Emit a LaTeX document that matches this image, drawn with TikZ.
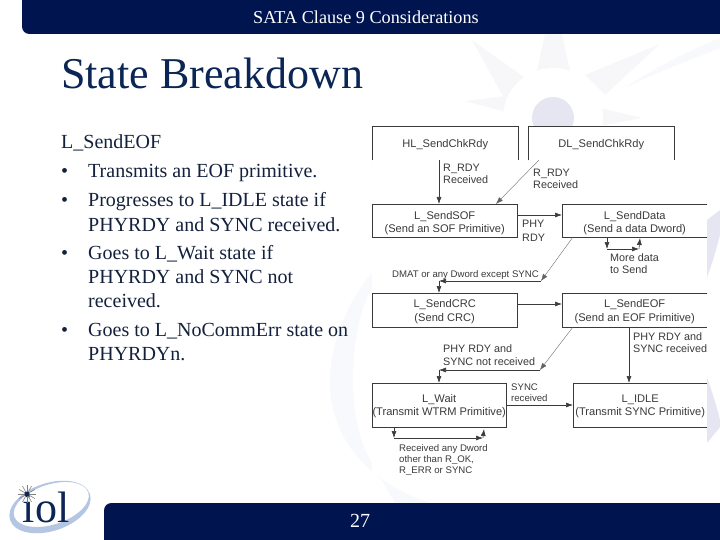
\documentclass[tikz,border=0pt]{standalone}
\usepackage{fontspec}
\setmainfont{Liberation Serif}
\newfontfamily\diag{Liberation Sans}
\usetikzlibrary{arrows.meta}
\definecolor{navy}{HTML}{001550}
\definecolor{titleblue}{HTML}{0B2555}
\definecolor{textnavy}{HTML}{14213D}
\definecolor{wm}{HTML}{F7F7FA}
\definecolor{wmdark}{HTML}{E6E6F2}
\definecolor{wmpale}{HTML}{F8F9FC}
\definecolor{ink}{HTML}{3A3A3A}
\definecolor{ring}{HTML}{B4C6E4}
\tikzset{
  x=1pt,y=-1pt,
  bar/.style={fill=navy,draw=none},
  statebox/.style={inner sep=0pt,anchor=north west},
  statetext/.style={inner sep=0pt,align=center,font=\diag\fontsize{11.1}{13.7}\selectfont,text=ink},
  outline/.style={draw=ink,line width=0.6pt},
  lbl/.style={inner sep=0pt,anchor=north west,align=left,font=\diag\fontsize{10.8}{12.5}\selectfont,text=ink},
  lblb/.style={inner sep=0pt,anchor=north west,align=left,font=\diag\fontsize{10.8}{14}\selectfont,text=ink},
  small/.style={inner sep=0pt,anchor=north west,align=left,font=\diag\fontsize{9.6}{11.2}\selectfont,text=ink},
  conn/.style={draw=ink,line width=0.6pt,-{Latex[length=7pt,width=5pt]}},
  thin/.style={draw=ink!80,line width=0.35pt,-{Latex[length=7pt,width=5pt]}},
  bullet/.style={inner sep=0pt,anchor=base west,font=\fontsize{20}{24}\selectfont,text=textnavy}
}
\begin{document}
\begin{tikzpicture}
\useasboundingbox (0,0) rectangle (720,540);
\fill[white] (0,0) rectangle (720,540);
% watermark
\fill[wm] (545,34) -- (562,34) -- (572,80) -- (535,80) -- cycle;
\fill[wm] (472,40) -- (525,78) -- (505,100) -- cycle;
\fill[wm] (660,44) -- (585,75) -- (605,95) -- cycle;
\fill[wm] (465,101) -- (506,96) -- (506,112) -- cycle;
\fill[wm] (642,118) -- (600,108) -- (600,126) -- cycle;
\fill[white] (553,118) circle (50);
\fill[wmdark] (553,118) circle (21);
\fill[wmpale] (625,88) .. controls (650,70) and (690,50) .. (720,38) -- (720,48) .. controls (690,60) and (650,75) .. cycle;
\fill[wmpale] (372,273) .. controls (345,305) and (330,345) .. (330,383) .. controls (330,430) and (360,480) .. (430,503) -- (395,503) -- (372,463) .. controls (358,440) and (353,410) .. (353,380) .. controls (353,340) and (362,300) .. (372,290) -- cycle;
\fill[white] (372,126) rectangle (707,476);
\fill[wmdark] (707,220) -- (720,210) -- (720,235) .. controls (716,250) and (712,265) .. (707,277) -- cycle;
\fill[wmdark] (707,377) .. controls (712,392) and (717,407) .. (720,420) -- (720,427) -- (707,443) -- cycle;
% bars
\fill[bar] (22,0) -- (720,0) -- (720,34) -- (30,34) .. controls (25,34) and (22,31) .. (22,26) -- cycle;
\fill[bar] (104,540) -- (104,511) .. controls (104,506) and (107,503) .. (112,503) -- (720,503) -- (720,540) -- cycle;
\node[inner sep=0pt,text=white,font=\fontsize{18.2}{20}\selectfont] (hdr) at (366,17.5) {SATA Clause 9 Considerations};
\node[inner sep=0pt,text=white,font=\fontsize{20}{22}\selectfont] (pg) at (360,521) {27};
\node[inner sep=0pt,anchor=base west,text=titleblue,font=\fontsize{44}{50}\selectfont] (title) at (61,89) {State Breakdown};
% left text
\node[bullet] (t0) at (61,149) {L\_SendEOF};
\node[bullet] (b1) at (61,178) {•};
\node[bullet] (l1) at (88,178) {Transmits an EOF primitive.};
\node[bullet] (b2) at (61,207) {•};
\node[bullet] (l2) at (88,207) {Progresses to L\_IDLE state if};
\node[bullet] (l2b) at (88,231) {PHYRDY and SYNC received.};
\node[bullet] (b3) at (61,259) {•};
\node[bullet] (l3) at (88,259) {Goes to L\_Wait state if};
\node[bullet] (l3b) at (88,283) {PHYRDY and SYNC not};
\node[bullet] (l3c) at (88,307) {received.};
\node[bullet] (b4) at (61,336) {•};
\node[bullet] (l4) at (88,336) {Goes to L\_NoCommErr state on};
\node[bullet] (l4b) at (88,360) {PHYRDYn.};
% logo
\fill[ring,even odd rule,rotate around={18:(50,507)}] (50,507) ellipse (42 and 24) (52,505) ellipse (39 and 20);
\node[inner sep=0pt,text=titleblue,font=\fontsize{44}{44}\selectfont] (logo) at (46,507.5) {iol};
\foreach \a in {0,30,...,330} \draw[gray,line width=0.6pt] (27,494) -- ++(\a:9);
\fill[titleblue] (27,494) circle (2.4);
% boxes
\node[statebox,minimum width=146pt,minimum height=34pt] (hl) at (372,126) {};
\node[statebox,minimum width=146pt,minimum height=34pt] (dl) at (528,126) {};
\node[statebox,minimum width=145pt,minimum height=33pt] (sof) at (372,204) {};
\node[statebox,minimum width=145pt,minimum height=33pt] (data) at (562,204) {};
\node[statebox,minimum width=145pt,minimum height=34pt] (crc) at (372,293) {};
\node[statebox,minimum width=145pt,minimum height=34pt] (eof) at (562,293) {};
\node[statebox,minimum width=134pt,minimum height=44pt] (wait) at (372,383) {};
\node[statebox,minimum width=134pt,minimum height=44pt] (idle) at (573,383) {};
\node[statetext] (hlt) at ([yshift=-1pt]hl.center) {HL\_SendChkRdy};
\node[statetext] (dlt) at ([yshift=-1pt]dl.center) {DL\_SendChkRdy};
\node[statetext] (soft) at ([yshift=-2.5pt]sof.center) {L\_SendSOF\\(Send an SOF Primitive)};
\node[statetext] (datat) at ([yshift=-2.5pt]data.center) {L\_SendData\\(Send a data Dword)};
\node[statetext] (crct2) at ([yshift=-1.5pt]crc.center) {L\_SendCRC\\(Send CRC)};
\node[statetext] (eoft) at ([yshift=-1.5pt]eof.center) {L\_SendEOF\\(Send an EOF Primitive)};
\node[statetext] (waitt2) at ([yshift=-1pt]wait.center) {L\_Wait\\(Transmit WTRM Primitive)};
\node[statetext] (idlet2) at ([yshift=-1pt]idle.center) {L\_IDLE\\(Transmit SYNC Primitive)};
\draw[outline] (hl.south west) -- (hl.north west) -- (hl.north east) -- (hl.south east);
\draw[outline] (dl.south west) -- (dl.north west) -- (dl.north east) -- (dl.south east);
\draw[outline] (sof.south west) rectangle (sof.north east);
\draw[outline] (crc.south west) rectangle (crc.north east);
\draw[outline] (wait.south west) rectangle (wait.north east);
\draw[outline] (data.north east) -- (data.north west) -- (data.south west) -- (data.south east);
\draw[outline] (eof.north east) -- (eof.north west) -- (eof.south west) -- (eof.south east);
\draw[outline] (idle.north east) -- (idle.north west) -- (idle.south west) -- (idle.south east);
% connectors
\coordinate (hlb) at (439,160);
\coordinate (sofa) at (439,204);
\coordinate (dlb) at (539,160);
\coordinate (sofb) at (496,204);
\coordinate (datab) at (573,237);
\coordinate (dmatr) at (541,281);
\coordinate (dmatl) at (439,281);
\coordinate (crct) at (439,293);
\coordinate (eofb) at (573,327);
\coordinate (nsr) at (540,370);
\coordinate (nsl) at (439,370);
\coordinate (waitt) at (439,383);
\coordinate (eofbb) at (629,327);
\coordinate (idlet) at (629,383);
\coordinate (dla) at (607,237);
\coordinate (dlb2) at (607,249);
\coordinate (dlc) at (639,249);
\coordinate (dld) at (640,238);
\coordinate (wla) at (394,427);
\coordinate (wlb) at (394,438);
\coordinate (wlc) at (483,438);
\coordinate (wld) at (484,429);
\draw[conn] (hlb) -- (sofa);
\draw[thin] (dlb) -- (sofb);
\draw[conn] (sof.east |- 0,215) -- (data.west |- 0,215);
\draw[thin] (datab) -- (dmatr);
\draw[conn] (dmatr) -- (dmatl);
\draw[conn] (dmatl) -- (crct);
\draw[conn] (crc.east |- 0,304) -- (eof.west |- 0,304);
\draw[thin] (eofb) -- (nsr);
\draw[conn] (nsr) -- (nsl);
\draw[conn] (nsl) -- (waitt);
\draw[conn] (eofbb) -- (idlet);
\draw[conn] (wait.east |- 0,405) -- (idle.west |- 0,405);
\draw[conn] (dla) -- (dlb2);
\draw[conn] (dlb2) -- (dlc);
\draw[conn] (dlc) -- (dld);
\draw[conn] (wla) -- (wlb);
\draw[conn] (wlb) -- (wlc);
\draw[conn] (wlc) -- (wld);
% labels
\node[lbl] (a1) at (443,163.5) {R\_RDY\\Received};
\node[lbl] (a2) at (533,168.5) {R\_RDY\\Received};
\node[lblb] (a3) at (522,219.5) {PHY\\RDY};
\node[lbl] (a4) at (610,253) {More data\\to Send};
\node[small] (a5) at (392,270) {DMAT or any Dword except SYNC};
\node[lbl] (a6) at (443,344.5) {PHY RDY and\\SYNC not received};
\node[lbl] (a7) at (633,332) {PHY RDY and\\SYNC received};
\node[small] (a8) at (511,383.5) {SYNC\\received};
\node[small] (a9) at (399,444) {Received any Dword\\other than R\_OK,\\R\_ERR or SYNC};
\fill[white] (707,331) rectangle (720,358);
\end{tikzpicture}
\end{document}
